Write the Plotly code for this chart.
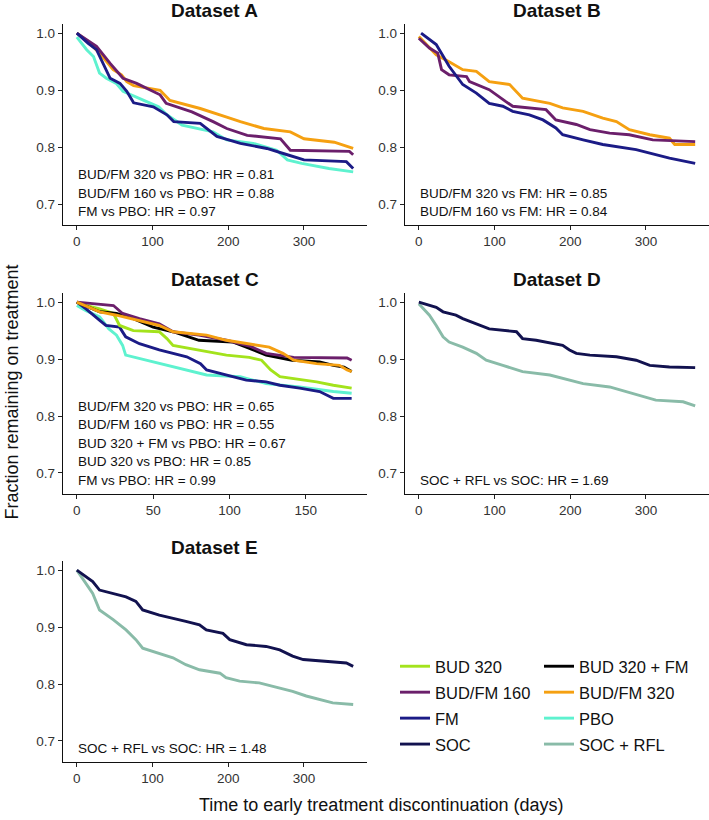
import plotly.graph_objects as go

# ---- data (days, fraction remaining on treatment) ----
# Dataset A
A_BUDFM320_DAYS = [0, 15, 30, 48, 59, 66, 75, 110, 123, 163, 198, 216, 247, 282, 300, 340, 365]
A_BUDFM320_FRAC = [1.0, 0.985, 0.965, 0.936, 0.927, 0.915, 0.908, 0.900, 0.882, 0.868, 0.853, 0.845, 0.833, 0.827, 0.815, 0.809, 0.798]
A_BUDFM160_DAYS = [0, 26, 44, 61, 79, 97, 110, 118, 152, 180, 198, 225, 269, 282, 360, 365]
A_BUDFM160_FRAC = [1.0, 0.977, 0.947, 0.921, 0.912, 0.900, 0.892, 0.877, 0.862, 0.845, 0.833, 0.821, 0.815, 0.795, 0.793, 0.787]
A_FM_DAYS = [0, 15, 26, 35, 44, 57, 66, 75, 101, 119, 128, 163, 185, 216, 251, 278, 300, 356, 365]
A_FM_FRAC = [1.0, 0.982, 0.971, 0.947, 0.921, 0.912, 0.898, 0.878, 0.871, 0.857, 0.845, 0.842, 0.819, 0.807, 0.798, 0.787, 0.778, 0.775, 0.763]
A_PBO_DAYS = [0, 13, 22, 30, 39, 52, 61, 83, 108, 119, 139, 180, 198, 233, 264, 278, 297, 333, 365]
A_PBO_FRAC = [0.993, 0.971, 0.959, 0.930, 0.921, 0.912, 0.898, 0.886, 0.871, 0.857, 0.839, 0.827, 0.813, 0.807, 0.795, 0.778, 0.772, 0.763, 0.757]

# Dataset B
B_BUDFM320_DAYS = [0, 23, 40, 58, 76, 93, 120, 137, 173, 190, 217, 243, 261, 278, 305, 331, 338, 365]
B_BUDFM320_FRAC = [0.994, 0.962, 0.950, 0.936, 0.933, 0.915, 0.910, 0.886, 0.877, 0.869, 0.863, 0.851, 0.845, 0.831, 0.822, 0.816, 0.805, 0.805]
B_BUDFM160_DAYS = [0, 14, 25, 30, 40, 63, 67, 93, 115, 124, 168, 181, 208, 226, 252, 278, 309, 365]
B_BUDFM160_FRAC = [0.991, 0.974, 0.965, 0.936, 0.927, 0.924, 0.915, 0.901, 0.880, 0.872, 0.866, 0.848, 0.840, 0.831, 0.825, 0.822, 0.813, 0.810]
B_FM_DAYS = [3, 23, 40, 58, 76, 93, 111, 124, 146, 164, 181, 190, 217, 243, 287, 314, 331, 365]
B_FM_FRAC = [1.0, 0.980, 0.942, 0.910, 0.895, 0.877, 0.872, 0.863, 0.857, 0.848, 0.834, 0.822, 0.813, 0.805, 0.796, 0.787, 0.781, 0.772]

# Dataset C
C_BUD320FM_DAYS = [0, 15, 26, 37, 50, 63, 80, 102, 111, 124, 141, 159, 168, 175, 180]
C_BUD320FM_FRAC = [1.0, 0.983, 0.980, 0.971, 0.956, 0.948, 0.933, 0.930, 0.921, 0.907, 0.898, 0.895, 0.889, 0.886, 0.878]
C_BUD320_DAYS = [0, 6, 15, 24, 28, 37, 54, 59, 63, 80, 98, 113, 121, 127, 133, 157, 168, 180]
C_BUD320_FRAC = [1.0, 0.994, 0.988, 0.980, 0.959, 0.950, 0.948, 0.936, 0.924, 0.916, 0.907, 0.903, 0.898, 0.881, 0.869, 0.860, 0.854, 0.849]
C_BUDFM160_DAYS = [0, 24, 30, 41, 54, 63, 80, 98, 113, 124, 142, 177, 180]
C_BUDFM160_FRAC = [1.0, 0.994, 0.980, 0.971, 0.962, 0.948, 0.942, 0.933, 0.923, 0.910, 0.903, 0.902, 0.898]
C_BUDFM320_DAYS = [0, 15, 26, 41, 54, 63, 85, 98, 113, 126, 135, 142, 157, 172, 177, 180]
C_BUDFM320_FRAC = [1.0, 0.983, 0.977, 0.968, 0.959, 0.948, 0.942, 0.933, 0.927, 0.921, 0.910, 0.898, 0.892, 0.889, 0.881, 0.878]
C_FM_DAYS = [0, 6, 15, 19, 28, 32, 41, 54, 72, 81, 85, 98, 111, 124, 133, 146, 159, 168, 180]
C_FM_FRAC = [1.0, 0.988, 0.968, 0.959, 0.956, 0.939, 0.927, 0.916, 0.904, 0.892, 0.881, 0.872, 0.863, 0.860, 0.854, 0.849, 0.843, 0.831, 0.831]
C_PBO_DAYS = [0, 6, 15, 21, 26, 30, 32, 41, 54, 72, 85, 107, 124, 146, 159, 168, 180]
C_PBO_FRAC = [0.994, 0.985, 0.974, 0.953, 0.942, 0.924, 0.907, 0.901, 0.892, 0.881, 0.872, 0.869, 0.857, 0.851, 0.846, 0.843, 0.840]

# Dataset D
D_SOC_DAYS = [0, 23, 32, 49, 58, 76, 93, 129, 137, 155, 190, 199, 208, 226, 261, 287, 305, 331, 365]
D_SOC_FRAC = [1.0, 0.991, 0.983, 0.977, 0.971, 0.962, 0.953, 0.948, 0.936, 0.933, 0.924, 0.916, 0.910, 0.907, 0.904, 0.898, 0.889, 0.886, 0.885]
D_SOCRFL_DAYS = [0, 14, 23, 32, 40, 58, 76, 89, 111, 137, 173, 199, 217, 252, 274, 287, 313, 349, 365]
D_SOCRFL_FRAC = [0.997, 0.977, 0.959, 0.939, 0.930, 0.921, 0.910, 0.898, 0.889, 0.878, 0.872, 0.863, 0.857, 0.851, 0.843, 0.837, 0.828, 0.825, 0.818]

# Dataset E
E_SOC_DAYS = [0, 21, 30, 48, 65, 78, 87, 109, 127, 144, 162, 171, 193, 202, 224, 250, 268, 285, 299, 338, 356, 365]
E_SOC_FRAC = [1.0, 0.980, 0.965, 0.959, 0.953, 0.945, 0.930, 0.921, 0.916, 0.910, 0.904, 0.895, 0.889, 0.878, 0.869, 0.866, 0.860, 0.849, 0.843, 0.838, 0.837, 0.831]
E_SOCRFL_DAYS = [0, 12, 21, 30, 48, 65, 78, 87, 109, 127, 144, 162, 189, 197, 215, 241, 259, 285, 303, 321, 338, 365]
E_SOCRFL_FRAC = [1.0, 0.977, 0.959, 0.930, 0.913, 0.895, 0.878, 0.863, 0.854, 0.846, 0.834, 0.825, 0.819, 0.811, 0.805, 0.802, 0.796, 0.787, 0.779, 0.773, 0.767, 0.764]

PANEL_TITLES = ["Dataset A", "Dataset B", "Dataset C", "Dataset D", "Dataset E"]
HR_TEXT = {
    1: ["BUD/FM 320 vs PBO: HR = 0.81", "BUD/FM 160 vs PBO: HR = 0.88", "FM vs PBO: HR = 0.97"],
    2: ["BUD/FM 320 vs FM: HR = 0.85", "BUD/FM 160 vs FM: HR = 0.84"],
    3: ["BUD/FM 320 vs PBO: HR = 0.65", "BUD/FM 160 vs PBO: HR = 0.55",
        "BUD 320 + FM vs PBO: HR = 0.67", "BUD 320 vs PBO: HR = 0.85", "FM vs PBO: HR = 0.99"],
    4: ["SOC + RFL vs SOC: HR = 1.69"],
    5: ["SOC + RFL vs SOC: HR = 1.48"],
}

COLORS = {
    "BUD 320": "#a3e31c",
    "BUD/FM 160": "#6b1f6b",
    "FM": "#1b1b86",
    "SOC": "#12124f",
    "BUD 320 + FM": "#000000",
    "BUD/FM 320": "#f5a011",
    "PBO": "#5ef2cf",
    "SOC + RFL": "#89bba8",
}
# legend placement: (legend id, rank)
LEGEND_POS = {
    "BUD 320": ("legend", 1), "BUD/FM 160": ("legend", 2), "FM": ("legend", 3), "SOC": ("legend", 4),
    "BUD 320 + FM": ("legend2", 1), "BUD/FM 320": ("legend2", 2), "PBO": ("legend2", 3), "SOC + RFL": ("legend2", 4),
}

series = [
    (1, "BUD/FM 320", A_BUDFM320_DAYS, A_BUDFM320_FRAC),
    (1, "BUD/FM 160", A_BUDFM160_DAYS, A_BUDFM160_FRAC),
    (1, "PBO", A_PBO_DAYS, A_PBO_FRAC),
    (1, "FM", A_FM_DAYS, A_FM_FRAC),
    (2, "BUD/FM 320", B_BUDFM320_DAYS, B_BUDFM320_FRAC),
    (2, "BUD/FM 160", B_BUDFM160_DAYS, B_BUDFM160_FRAC),
    (2, "FM", B_FM_DAYS, B_FM_FRAC),
    (3, "PBO", C_PBO_DAYS, C_PBO_FRAC),
    (3, "FM", C_FM_DAYS, C_FM_FRAC),
    (3, "BUD 320", C_BUD320_DAYS, C_BUD320_FRAC),
    (3, "BUD 320 + FM", C_BUD320FM_DAYS, C_BUD320FM_FRAC),
    (3, "BUD/FM 160", C_BUDFM160_DAYS, C_BUDFM160_FRAC),
    (3, "BUD/FM 320", C_BUDFM320_DAYS, C_BUDFM320_FRAC),
    (4, "SOC + RFL", D_SOCRFL_DAYS, D_SOCRFL_FRAC),
    (4, "SOC", D_SOC_DAYS, D_SOC_FRAC),
    (5, "SOC + RFL", E_SOCRFL_DAYS, E_SOCRFL_FRAC),
    (5, "SOC", E_SOC_DAYS, E_SOC_FRAC),
]

W, H = 709, 820
FONT = "Liberation Sans, Arial, Helvetica, sans-serif"

# panel boxes in pixels: (left, right, top, bottom)
boxes = {
    1: (63, 367, 24, 225),
    2: (405, 709, 24, 225),
    3: (63, 367, 293, 493.5),
    4: (405, 709, 293, 493.5),
    5: (63, 367, 561, 761.5),
}

fig = go.Figure()
seen = set()
for p, name, days, frac in series:
    sfx = "" if p == 1 else str(p)
    leg, rank = LEGEND_POS[name]
    fig.add_trace(go.Scatter(
        x=days, y=frac, mode="lines", name=name,
        line=dict(color=COLORS[name], width=2.9),
        xaxis="x" + sfx, yaxis="y" + sfx,
        legend=leg, legendgroup=name, legendrank=rank,
        showlegend=name not in seen, hoverinfo="skip",
    ))
    seen.add(name)

layout = dict(
    width=W, height=H, margin=dict(l=0, r=0, t=0, b=0),
    paper_bgcolor="white", plot_bgcolor="white",
    font=dict(family=FONT, color="#111"),
)
axis_common = dict(
    showline=True, linecolor="#111", linewidth=1.3, showgrid=False, zeroline=False,
    ticks="outside", ticklen=4, tickwidth=1.1, tickcolor="#222",
    tickfont=dict(size=13.5, color="#333"),
)
annotations = []
for p, (l, r, t, b) in boxes.items():
    sfx = "" if p == 1 else str(p)
    xr = [-9.05, 190.05] if p == 3 else [-18.25, 383.25]
    layout["xaxis" + sfx] = dict(
        axis_common, domain=[l / W, r / W], range=xr,
        dtick=50 if p == 3 else 100, anchor="y" + sfx,
    )
    layout["yaxis" + sfx] = dict(
        axis_common, domain=[1 - b / H, 1 - t / H], range=[0.664, 1.016],
        tickvals=[0.7, 0.8, 0.9, 1.0], tickformat=".1f", anchor="x" + sfx,
    )
    annotations.append(dict(
        text="<b>" + PANEL_TITLES[p - 1] + "</b>", xref="paper", yref="paper",
        x=(l + r) / 2 / W, y=1 - (t - 13.5) / H, xanchor="center", yanchor="middle",
        showarrow=False, font=dict(size=19, color="#111"),
    ))
    lines = HR_TEXT[p]
    for i, txt in enumerate(lines):
        k = len(lines) - 1 - i
        annotations.append(dict(
            text=txt, xref="x" + sfx + " domain", yref="y" + sfx + " domain",
            x=0.043, y=0.066 + k * 0.092, xanchor="left", yanchor="middle",
            showarrow=False, font=dict(size=13.5, color="#111"),
        ))

annotations.append(dict(
    text="Time to early treatment discontinuation (days)", xref="paper", yref="paper",
    x=381 / W, y=1 - 805 / H, xanchor="center", yanchor="middle",
    showarrow=False, font=dict(size=18, color="#111"),
))
annotations.append(dict(
    text="Fraction remaining on treatment", xref="paper", yref="paper",
    x=11.5 / W, y=1 - 392 / H, xanchor="center", yanchor="middle", textangle=-90,
    showarrow=False, font=dict(size=18, color="#111"),
))
layout["annotations"] = annotations

legend_common = dict(
    yanchor="top", xanchor="left", bgcolor="rgba(0,0,0,0)",
    font=dict(size=16.5, color="#111"), tracegroupgap=1.5, traceorder="grouped",
)
layout["legend"] = dict(legend_common, x=395 / W, y=1 - 649 / H)
layout["legend2"] = dict(legend_common, x=539 / W, y=1 - 649 / H)

fig.update_layout(**layout)
fig.write_html("out.html", config={"displayModeBar": False},
               post_script="document.body.style.margin='0px';")
